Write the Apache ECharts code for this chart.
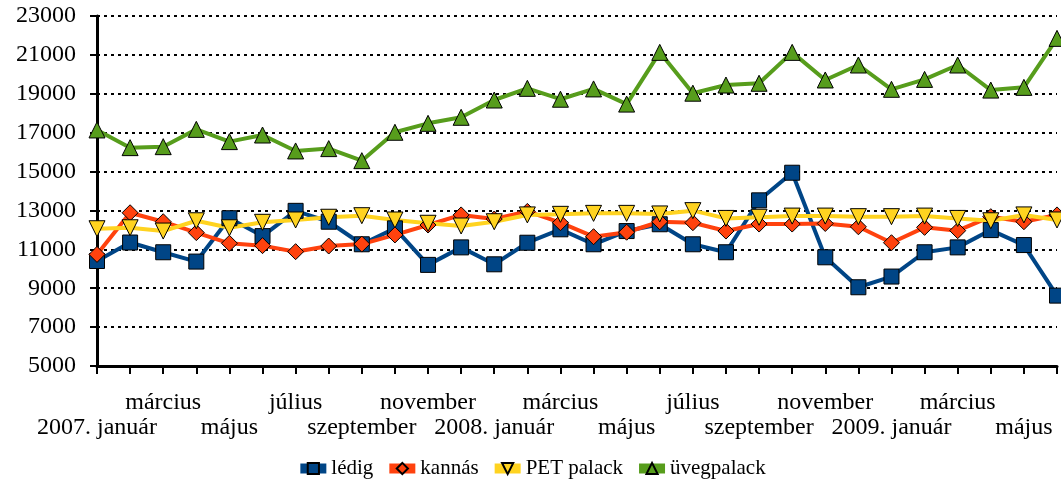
<!DOCTYPE html>
<html>
<head>
<meta charset="utf-8">
<script src="https://cdn.jsdelivr.net/npm/echarts@6/dist/echarts.min.js"></script>
<style>
	html, body { margin: 0; padding: 0; background: #fff; }
	#chart { width: 1061px; height: 484px; }
</style>
</head>
<body>
<div id="chart"></div>
<script>
	// hónapok 2007. január - 2009. június
	var months = ['2007. január', 'február', 'március', 'április', 'május', 'június',
		'július', 'augusztus', 'szeptember', 'október', 'november', 'december',
		'2008. január', 'február', 'március', 'április', 'május', 'június',
		'július', 'augusztus', 'szeptember', 'október', 'november', 'december',
		'2009. január', 'február', 'március', 'április', 'május', 'június'];

	var ledig = [10400, 11350, 10850, 10370, 12600, 11680, 12980, 12420, 11260, 12080,
		10200, 11100, 10230, 11340, 12030, 11260, 11940, 12290, 11260, 10850,
		13520, 14940, 10590, 9050, 9600, 10850, 11100, 11990, 11220, 8620];

	var kannas = [10740, 12880, 12420, 11860, 11310, 11190, 10880, 11170, 11270, 11740,
		12250, 12770, 12560, 12950, 12370, 11650, 11880, 12420, 12370, 11940,
		12300, 12300, 12330, 12160, 11340, 12130, 11960, 12680, 12420, 12770];

	var pet = [12060, 12110, 11940, 12470, 12110, 12390, 12510, 12650, 12730, 12510,
		12340, 12200, 12420, 12770, 12800, 12850, 12850, 12820, 12990, 12590,
		12650, 12710, 12710, 12680, 12680, 12710, 12590, 12470, 12770, 12510];

	var uveg = [17140, 16230, 16280, 17170, 16540, 16880, 16060, 16180, 15560, 17020,
		17480, 17790, 18680, 19280, 18720, 19250, 18470, 21130, 19030, 19450,
		19540, 21130, 19710, 20480, 19230, 19740, 20480, 19190, 19330, 21850];

	var yTicks = { min: 5000, max: 23000, step: 2000 };

	var font = '"Liberation Serif", "DejaVu Serif", serif';

	function mkSeries(name, data, color, symbol, size, rotate) {
		return {
			name: name,
			type: 'line',
			data: data,
			symbol: symbol,
			symbolSize: size,
			symbolRotate: rotate || 0,
			showAllSymbol: true,
			animation: false,
			lineStyle: { color: color, width: 4 },
			itemStyle: { color: color, borderColor: '#000', borderWidth: 1 }
		};
	}

	var myChart = echarts.init(document.getElementById('chart'));
	myChart.setOption({
		backgroundColor: '#fff',
		textStyle: { fontFamily: font },
		grid: { left: 97, right: 4, top: 16, bottom: 118 },
		legend: {
			bottom: 0,
			left: 'center',
			itemWidth: 26,
			itemHeight: 14,
			itemGap: 11,
			lineStyle: { width: 10 },
			textStyle: { fontFamily: font, fontSize: 21, color: '#000' },
			data: ['lédig', 'kannás', 'PET palack', 'üvegpalack']
		},
		xAxis: {
			type: 'category',
			boundaryGap: false,
			data: months,
			axisLine: { lineStyle: { color: '#000', width: 3 } },
			axisTick: { interval: 0, length: 8, lineStyle: { color: '#000', width: 2 } },
			axisLabel: {
				interval: 0,
				hideOverlap: false,
				margin: 24,
				fontFamily: font,
				fontSize: 24,
				lineHeight: 25,
				color: '#000',
				formatter: function (val, i) {
					if (i % 4 === 0) return '\n' + val;
					if (i % 4 === 2) return val + '\n';
					return '';
				}
			},
			splitLine: { show: false }
		},
		yAxis: {
			type: 'value',
			min: yTicks.min,
			max: yTicks.max,
			interval: yTicks.step,
			axisLine: { show: true, lineStyle: { color: '#000', width: 3 } },
			axisTick: { show: true, length: 7, lineStyle: { color: '#000', width: 2 } },
			axisLabel: {
				margin: 21, fontFamily: font, fontSize: 24, color: '#000',
				formatter: function (v) { return String(v); }
			},
			splitLine: { lineStyle: { color: '#000', width: 2, type: [3, 4] } }
		},
		series: [
			mkSeries('lédig', ledig, '#004586', 'rect', 15),
			mkSeries('kannás', kannas, '#ff420e', 'diamond', 16),
			mkSeries('PET palack', pet, '#ffd320', 'triangle', 16, 180),
			mkSeries('üvegpalack', uveg, '#579d1c', 'triangle', 16)
		]
	});
</script>
</body>
</html>
